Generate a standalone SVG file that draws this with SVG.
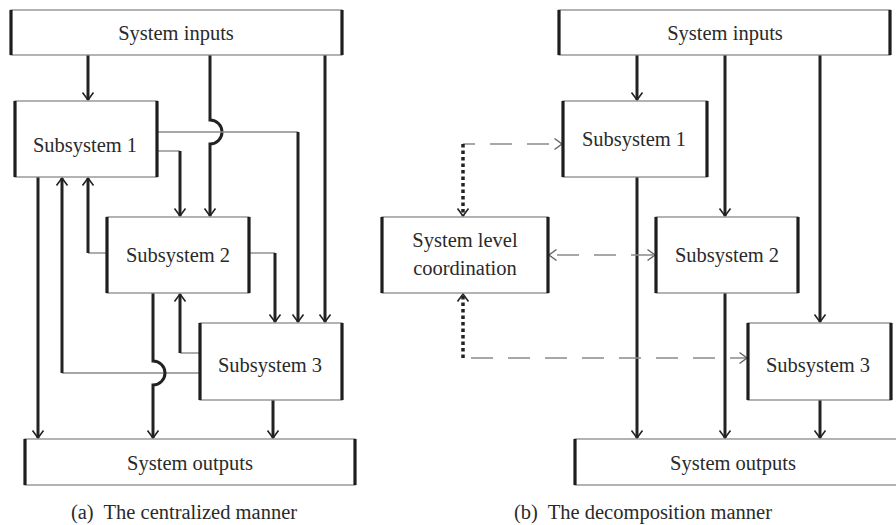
<svg xmlns="http://www.w3.org/2000/svg" width="896" height="525" viewBox="0 0 896 525">
<defs>
<style>
.box{fill:#fff;stroke:#8a8a8a;stroke-width:1.3}
.side{stroke:#1e1e1e;stroke-width:3.2}
.t{font-family:"Liberation Serif",serif;font-size:20.5px;fill:#2a2a2a;text-anchor:middle;dominant-baseline:central}
.cap{font-family:"Liberation Serif",serif;font-size:20.5px;fill:#2a2a2a;text-anchor:middle;dominant-baseline:central}
.thick{fill:none;stroke:#222;stroke-width:3}
.thin{fill:none;stroke:#8a8a8a;stroke-width:1.4}
.dash{fill:none;stroke:#8a8a8a;stroke-width:1.6;stroke-dasharray:22 15}
.dot{fill:none;stroke:#222;stroke-width:3.5;stroke-dasharray:3.5 3}
</style>
<marker id="ah" viewBox="-10 -7 12 14" refX="0" refY="0" markerWidth="12" markerHeight="14" markerUnits="userSpaceOnUse" orient="auto-start-reverse">
<path d="M-7.5,-5.5 L0,0 L-7.5,5.5" fill="none" stroke="#222" stroke-width="1.6"/>
</marker>
<marker id="ahg" viewBox="-10 -7 12 14" refX="0" refY="0" markerWidth="12" markerHeight="14" markerUnits="userSpaceOnUse" orient="auto-start-reverse">
<path d="M-7.5,-5.5 L0,0 L-7.5,5.5" fill="none" stroke="#666" stroke-width="1.5"/>
</marker>
</defs>
<rect width="896" height="525" fill="#fff"/>

<g id="connectors-a">
<path class="thick" d="M88,55 V100" marker-end="url(#ah)"/>
<path class="thick" d="M210,55 V120 A12,12 0 0 1 210,144 V216" marker-end="url(#ah)"/>
<path class="thick" d="M325,55 V322" marker-end="url(#ah)"/>
<path class="thin" d="M157,132 H298"/>
<path class="thick" d="M298,132 V322" marker-end="url(#ah)"/>
<path class="thin" d="M157,151 H180"/>
<path class="thick" d="M180,151 V216" marker-end="url(#ah)"/>
<path class="thick" d="M38,177 V438" marker-end="url(#ah)"/>
<path class="thin" d="M200,373 H62"/>
<path class="thick" d="M62,373 V178" marker-end="url(#ah)"/>
<path class="thin" d="M107,253 H88"/>
<path class="thick" d="M88,253 V178" marker-end="url(#ah)"/>
<path class="thin" d="M249,253 H275"/>
<path class="thick" d="M275,253 V322" marker-end="url(#ah)"/>
<path class="thick" d="M153,293 V361 A12,12 0 0 1 153,385 V438" marker-end="url(#ah)"/>
<path class="thin" d="M200,353 H180"/>
<path class="thick" d="M180,353 V294" marker-end="url(#ah)"/>
<path class="thick" d="M273,400 V438" marker-end="url(#ah)"/>
</g>

<g id="connectors-b">
<path class="thick" d="M637,55 V100" marker-end="url(#ah)"/>
<path class="thick" d="M725,55 V216" marker-end="url(#ah)"/>
<path class="thick" d="M820,55 V322" marker-end="url(#ah)"/>
<path class="thick" d="M637,177 V438" marker-end="url(#ah)"/>
<path class="thick" d="M725,293 V438" marker-end="url(#ah)"/>
<path class="thick" d="M820,400 V438" marker-end="url(#ah)"/>
<path class="dash" d="M463,144 H562" stroke-dashoffset="10" marker-end="url(#ahg)"/>
<path class="dot" d="M463,144 V216" marker-end="url(#ah)"/>
<path class="dash" d="M549,255 H655" stroke-dashoffset="-8" marker-start="url(#ahg)" marker-end="url(#ahg)"/>
<path class="dot" d="M463,358 V294" marker-end="url(#ah)"/>
<path class="dash" d="M463,358 H747" stroke-dashoffset="-8" marker-end="url(#ahg)"/>
</g>

<g id="a-inputs"><rect class="box" x="11" y="10" width="331" height="45"/><path class="side" d="M11,10 V55 M342,10 V55"/><text class="t" x="176" y="33">System inputs</text></g>
<g id="a-sub1"><rect class="box" x="15" y="101" width="142" height="76"/><path class="side" d="M15,101 V177 M157,101 V177"/><text class="t" x="85" y="145">Subsystem 1</text></g>
<g id="a-sub2"><rect class="box" x="107" y="217" width="142" height="76"/><path class="side" d="M107,217 V293 M249,217 V293"/><text class="t" x="178" y="255">Subsystem 2</text></g>
<g id="a-sub3"><rect class="box" x="200" y="323" width="142" height="77"/><path class="side" d="M200,323 V400 M342,323 V400"/><text class="t" x="270" y="365">Subsystem 3</text></g>
<g id="a-outputs"><rect class="box" x="25" y="439" width="330" height="46"/><path class="side" d="M25,439 V485 M355,439 V485"/><text class="t" x="190" y="463">System outputs</text></g>
<text class="cap" x="184" y="512" xml:space="preserve">(a)  The centralized manner</text>

<g id="b-inputs"><rect class="box" x="559" y="10" width="331" height="45"/><path class="side" d="M559,10 V55 M890,10 V55"/><text class="t" x="725" y="33">System inputs</text></g>
<g id="b-sub1"><rect class="box" x="563" y="101" width="144" height="76"/><path class="side" d="M563,101 V177 M707,101 V177"/><text class="t" x="634" y="139">Subsystem 1</text></g>
<g id="b-coord"><rect class="box" x="382" y="217" width="166" height="76"/><path class="side" d="M382,217 V293 M548,217 V293"/><text class="t" x="465" y="240">System level</text><text class="t" x="465" y="268">coordination</text></g>
<g id="b-sub2"><rect class="box" x="656" y="217" width="142" height="76"/><path class="side" d="M656,217 V293 M798,217 V293"/><text class="t" x="727" y="255">Subsystem 2</text></g>
<g id="b-sub3"><rect class="box" x="748" y="323" width="143" height="77"/><path class="side" d="M748,323 V400 M891,323 V400"/><text class="t" x="818" y="365">Subsystem 3</text></g>
<g id="b-outputs"><rect class="box" x="575" y="439" width="330" height="46"/><path class="side" d="M575,439 V485"/><text class="t" x="733" y="463">System outputs</text></g>
<text class="cap" x="643" y="512" xml:space="preserve">(b)  The decomposition manner</text>
</svg>
